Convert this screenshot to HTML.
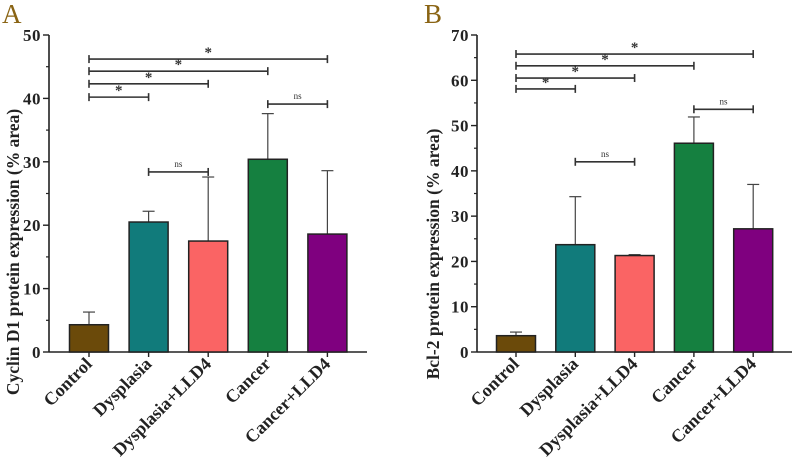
<!DOCTYPE html>
<html><head><meta charset="utf-8"><style>
body{margin:0;background:#fff;}
svg{display:block;font-family:"Liberation Serif",serif;}
</style></head><body>
<svg id="chart" width="798" height="460">
<text x="2" y="23" font-size="27" fill="#8a6414">A</text>
<text x="424" y="23" font-size="27" fill="#8a6414">B</text>
</svg>
<script>
const categories=["Control","Dysplasia","Dysplasia+LLD4","Cancer","Cancer+LLD4"];
const colors=["#6b4a0a","#117b7b","#fa6464","#158040","#7f007f"];
const valuesA=[4.3,20.5,17.5,30.4,18.6];
const errorsA=[6.3,22.2,27.6,37.6,28.6];
const valuesB=[3.6,23.7,21.3,46.1,27.2];
const errorsB=[4.4,34.3,21.5,51.9,37.0];
const ticksA=[0,10,20,30,40,50];
const ticksB=[0,10,20,30,40,50,60,70];
// significance brackets: [from index, to index, y value, label]
const sigA=[[0,1,40.2,"*"],[0,2,42.3,"*"],[0,3,44.3,"*"],[0,4,46.2,"*"],[1,2,28.4,"ns"],[3,4,39.1,"ns"]];
const sigB=[[0,1,58.1,"*"],[0,2,60.5,"*"],[0,3,63.2,"*"],[0,4,65.8,"*"],[1,2,42,"ns"],[3,4,53.6,"ns"]];

const svg=document.getElementById('chart');
const NS='http://www.w3.org/2000/svg';
function mk(tag,attrs,parent){const e=document.createElementNS(NS,tag);for(const k in attrs)e.setAttribute(k,attrs[k]);(parent||svg).appendChild(e);return e;}

function panel(p){
  const g=mk('g',{});
  
  
  const y=v=>p.y0-(v-0)*(p.y0-p.yTop)/p.max;
  const x=i=>p.x0+p.step*i;
  const ya=mk('line',{x1:p.ax,y1:p.yTop,x2:p.ax,y2:p.y0,stroke:'#222','stroke-width':1.6},g);
  
  
  const xa=mk('line',{x1:p.ax,y1:p.y0,x2:p.axEnd,y2:p.y0,stroke:'#222','stroke-width':1.6},g);
  
  
  p.ticks.forEach(t=>{
    mk('line',{x1:p.ax-6,y1:y(t),x2:p.ax,y2:y(t),stroke:'#222','stroke-width':1.4},g);
    if(t<p.max) mk('line',{x1:p.ax-3,y1:y(t+5),x2:p.ax,y2:y(t+5),stroke:'#222','stroke-width':1.2},g);
    const tl=mk('text',{x:p.ax-8,y:y(t)+6,'text-anchor':'end','font-size':17,'font-weight':'bold',fill:'#222','letter-spacing':'0.5'},g);
    tl.textContent=t;
    
    
  });
  const at=mk('text',{transform:`translate(${p.titleX},${p.titleY}) rotate(-90)`,'text-anchor':'middle','font-size':17.5,'font-weight':'bold',fill:'#222'},g);
  at.textContent=p.title;
  
  
  categories.forEach((c,i)=>{
    const cx=x(i);
    const top=y(p.vals[i]);
    const e=mk('line',{x1:cx,y1:y(p.errs[i]),x2:cx,y2:top,stroke:'#444','stroke-width':1.2},g);
    
    
    mk('line',{x1:cx-6,y1:y(p.errs[i]),x2:cx+6,y2:y(p.errs[i]),stroke:'#444','stroke-width':1.2},g);
    const b=mk('rect',{x:cx-p.bw/2,y:top,width:p.bw,height:p.y0-top,fill:colors[i],stroke:'#222','stroke-width':1.5},g);
    
    
    mk('line',{x1:cx,y1:p.y0,x2:cx,y2:p.y0+5,stroke:'#222','stroke-width':1.4},g);
    const l=mk('text',{transform:`translate(${cx+4},${p.y0+13}) rotate(-45)`,'text-anchor':'end','font-size':18,'font-weight':'bold',fill:'#222'},g);
    l.textContent=c;
    
    
  });
  p.sig.forEach(s=>{
    const x1=x(s[0]),x2=x(s[1]),yy=y(s[2]);
    const ln=mk('line',{x1:x1,y1:yy,x2:x2,y2:yy,stroke:'#333','stroke-width':1.6},g);
    
    
    mk('line',{x1:x1,y1:yy-4,x2:x1,y2:yy+4,stroke:'#333','stroke-width':1.6},g);
    mk('line',{x1:x2,y1:yy-4,x2:x2,y2:yy+4,stroke:'#333','stroke-width':1.6},g);
    const st=mk('text',{x:(x1+x2)/2,y:s[3]==='*'?yy-2:yy-5,'text-anchor':'middle','font-size':s[3]==='*'?15:9,'font-weight':s[3]==='*'?'bold':'normal',fill:'#333'},g);
    st.textContent=s[3];
    
    
  });
}
panel({name:'panel-a-cyclin-d1',ax:49,axEnd:367,y0:352,yTop:35,max:50,x0:89,step:59.6,bw:39,ticks:ticksA,vals:valuesA,errs:errorsA,sig:sigA,title:'Cyclin D1 protein expression (% area)',titleX:19,titleY:252});
panel({name:'panel-b-bcl2',ax:477,axEnd:792,y0:352,yTop:35,max:70,x0:516,step:59.3,bw:39,ticks:ticksB,vals:valuesB,errs:errorsB,sig:sigB,title:'Bcl-2 protein expression (% area)',titleX:439,titleY:254});
</script>
</body></html>
